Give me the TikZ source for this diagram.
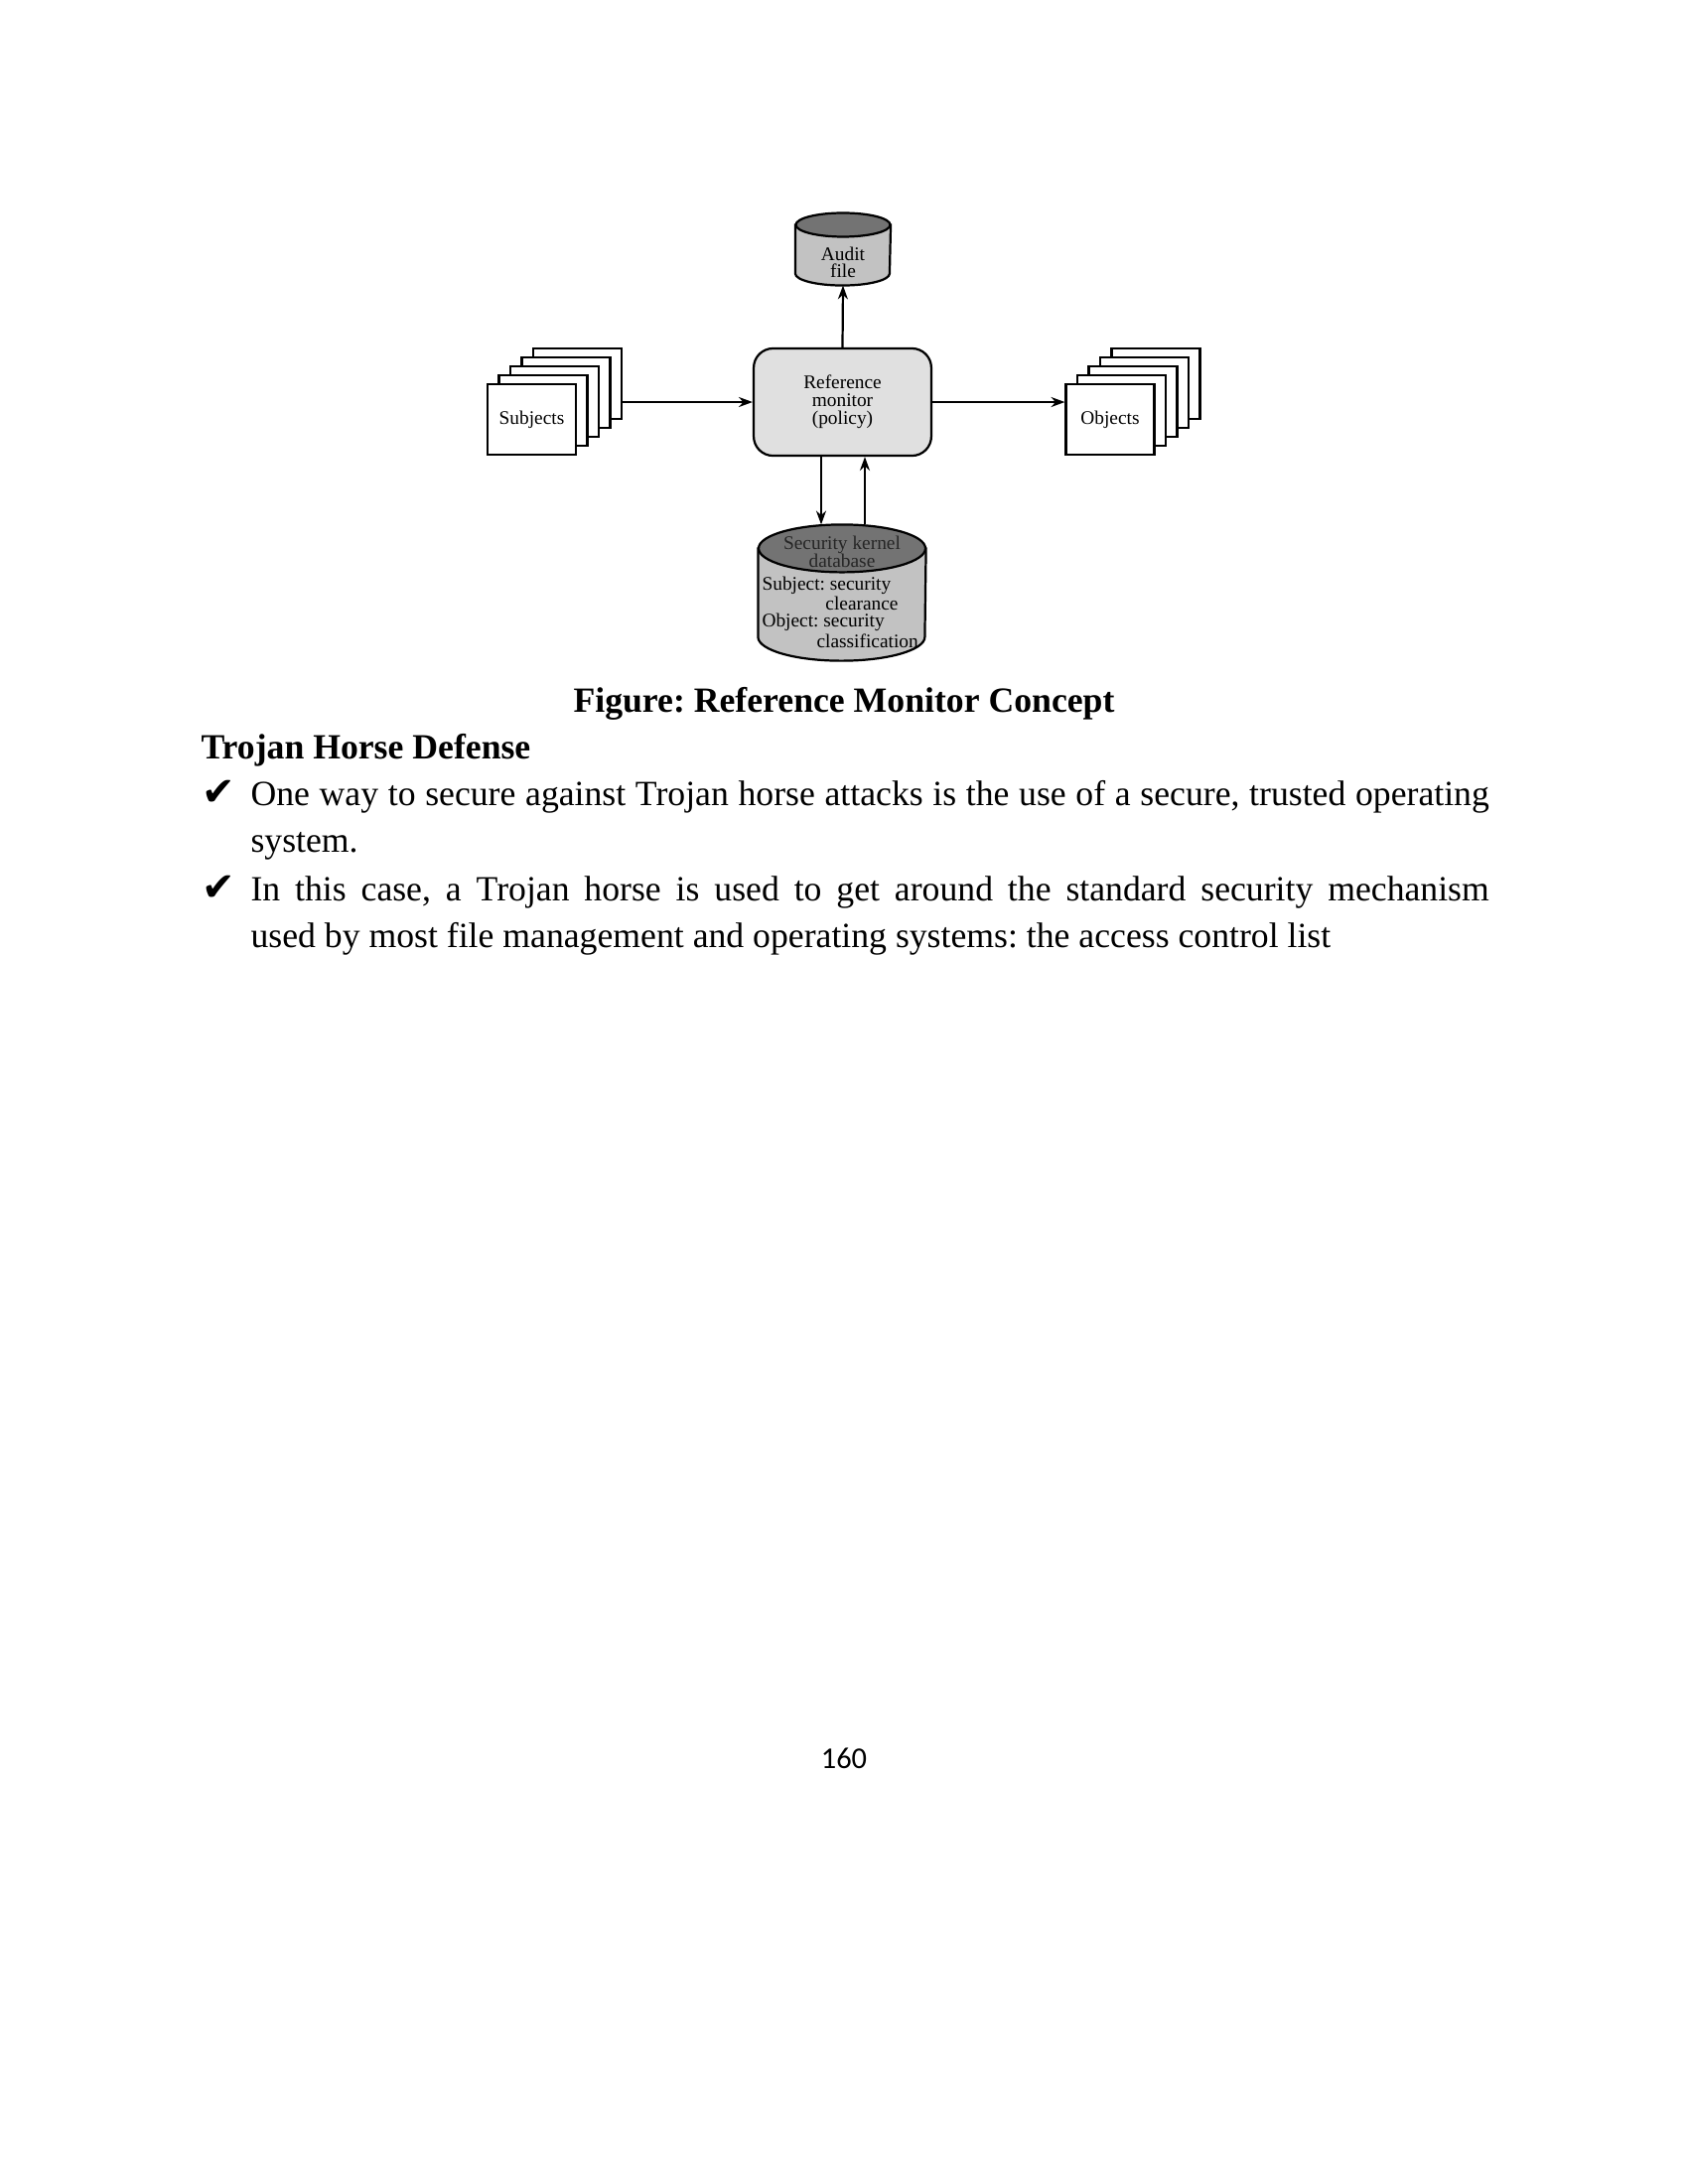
\documentclass[tikz,border=0pt]{standalone}
\usepackage{fontspec}
\setmainfont{Liberation Serif}
\newfontfamily\symfont{DejaVu Sans}
\newfontfamily\pagefont{Carlito}
\usetikzlibrary{arrows.meta,calc}
\frenchspacing
\definecolor{rmgray}{gray}{0.88}
\definecolor{bodygray}{gray}{0.76}
\definecolor{topgray}{gray}{0.45}
\tikzset{
  sheet/.style={draw=black,line width=0.8bp,fill=white,minimum width=32bp,minimum height=25.6bp,inner sep=0pt,font=\fontsize{7}{7}\selectfont},
  monitor/.style={draw=black,line width=0.8bp,fill=rmgray,rounded corners=7bp,minimum width=64.4bp,minimum height=38.9bp,inner sep=0pt,align=center,font=\fontsize{7}{6.5}\selectfont},
  store/.style={inner sep=0pt},
  drumline/.style={draw=black,line width=0.8bp},
  small/.style={inner sep=0pt,font=\fontsize{7}{6.2}\selectfont},
  link/.style={-{Stealth[length=5bp,width=3.6bp]},line width=0.8bp},
  body/.style={anchor=base west,inner sep=0pt,text width=449bp,align=justify,font=\fontsize{12.9}{17.2}\selectfont},
  tick/.style={anchor=base west,inner sep=0pt,font=\symfont\fontsize{14.5}{14.5}\selectfont},
}
% cylinder drawn round a node: #1 node, #2 x radius, #3 y radius
\newcommand{\drum}[3]{%
  \filldraw[drumline,fill=bodygray] ($(#1.north west)+(0,#3)$) -- ($(#1.south west)+(0,-#3)$)
    arc (180:0:#2 and #3) -- ($(#1.north east)+(0,#3)$) -- cycle;
  \filldraw[drumline,fill=topgray] ($(#1.north)+(0,#3)$) ellipse (#2 and #3);
}
\begin{document}
\begin{tikzpicture}[x=0.36bp,y=-0.36bp]
\useasboundingbox[fill=white] (0,0) rectangle (1700,2200);
% Reference monitor
\node (rm) [monitor] at (848.5,405) {Reference\\monitor\\(policy)};
% Audit file
\node (audit) [store,minimum width=34.2bp,minimum height=25.9bp] at (849,251) {};
\drum{audit}{47.5}{12}
\node (audittxt) [small,align=center,font=\fontsize{7}{6.1}\selectfont] at (849,264) {Audit\\file};
% Security kernel database
\node (db) [store,minimum width=60.5bp,minimum height=49bp] at (848,597) {};
\drum{db}{84}{24}
\node (dbtop) [small,align=center,text=black!85,font=\fontsize{7}{6.5}\selectfont] at (848,556) {Security kernel\\database};
\node (dbtxt) [small,anchor=north west,align=left] at (767,580) {Subject: security\\\hspace*{23bp}clearance\\Object: security\\\hspace*{19.8bp}classification};
% Subjects stack
\foreach \i in {5,...,2}
  \node (s\i) [sheet] at ({535.5+(\i-1)*11.5},{422.5-(\i-1)*9}) {};
\node (s1) [sheet] at (535.5,422.5) {Subjects};
% Objects stack
\foreach \i in {5,...,2}
  \node (o\i) [sheet] at ({1118+(\i-1)*11.5},{422.5-(\i-1)*9}) {};
\node (o1) [sheet] at (1118,422.5) {Objects};
% Arrows
\coordinate (dn) at (827,0);
\coordinate (up) at (871,0);
\draw[link] (rm.north) -- (audit.south);
\draw[link] (s5.east |- rm.west) -- (rm.west);
\draw[link] (rm.east) -- (o1.west |- rm.east);
\draw[link] (rm.south -| dn) -- (db.north -| dn);
\draw[link] (db.north -| up) -- (rm.south -| up);
% Caption and text
\node (cap) [anchor=base,inner sep=0pt,font=\bfseries\fontsize{12.9}{12.9}\selectfont] at (850,717) {Figure: Reference Monitor Concept};
\node (head) [anchor=base west,inner sep=0pt,font=\bfseries\fontsize{12.9}{12.9}\selectfont] at (202,764) {Trojan Horse Defense};
\node (t1) [tick] at (203,811) {✔};
\node (p1) [body] at (252,811) {One way to secure against Trojan horse attacks is the use of a secure, trusted operating\linebreak system.};
\node (t2) [tick] at (203,907) {✔};
\node (p2) [body] at (252,907) {In this case, a Trojan horse is used to get around the standard security mechanism\linebreak used by most file management and operating systems: the access control list};
% Page number
\node (pg) [inner sep=0pt,font=\pagefont\fontsize{11}{11}\selectfont] at (850,1771) {160};
\end{tikzpicture}
\end{document}
